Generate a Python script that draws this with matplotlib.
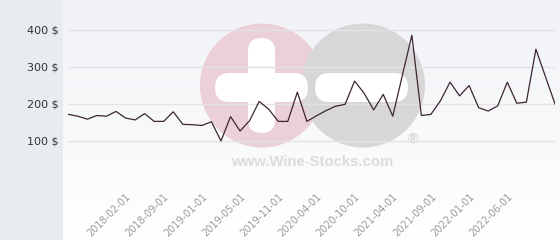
import numpy as np
import matplotlib
matplotlib.use("Agg")
import matplotlib.pyplot as plt
from matplotlib.patches import Circle, FancyBboxPatch

# prices, one per category slot
prices = [172, 167, 159, 169, 167, 180, 162, 157, 174, 153,
          153, 179, 145, 144, 142, 152, 100, 166, 127, 155,
          207, 186, 153, 153, 232, 153, 168, 182, 194, 199,
          262, 229, 184, 226, 167, 277, 386, 169, 172, 209,
          259, 222, 250, 190, 181, 195, 259, 202, 205, 348,
          274, 200]

# only every 4th category carries a visible label
tick_labels = ["2018-02-01", "2018-09-01", "2019-01-01", "2019-05-01",
               "2019-11-01", "2020-04-01", "2020-10-01", "2021-04-01",
               "2021-09-01", "2022-01-01", "2022-06-01"]
tick_pos = list(range(6, 6 + 4 * len(tick_labels), 4))

y_ticks = [100, 200, 300, 400]

W, H = 560, 240
fig = plt.figure(figsize=(W / 100, H / 100), dpi=100, facecolor="#e8ecef")

# white panel with soft vertical gradient + watermark, in pixel coords
bg = fig.add_axes([63 / W, 0, 1 - 63 / W, 1])
grad = np.linspace(0, 1, 256).reshape(-1, 1)
top = np.array([0.945, 0.949, 0.965])
bot = np.array([1.0, 1.0, 1.0])
img = top + (bot - top) * grad[..., None]
bg.imshow(img, aspect="auto", extent=[63, W, H, 0], origin="upper")
bg.set_xlim(63, W)
bg.set_ylim(H, 0)
bg.axis("off")

bg.add_patch(Circle((262, 85.5), 62, color="#ebd0d8", lw=0, zorder=2))
bg.add_patch(Circle((363, 85.5), 62, color="#d7d7d9", lw=0, zorder=2))

def pill(x, y, w, h):
    r = min(w, h) / 2
    bg.add_patch(FancyBboxPatch((x + r, y + r), w - 2 * r, h - 2 * r,
                                boxstyle=f"round,pad={r}",
                                color="white", lw=0, zorder=3))

pill(248, 38, 27, 95)    # plus, vertical
pill(215, 73, 93, 29)    # plus, horizontal
pill(315, 73, 93, 29)    # minus

bg.text(312, 162, "www.Wine-Stocks.com", fontsize=10.7, fontweight="bold",
        family="Liberation Sans", color="#dcdcdc", ha="center", va="center", zorder=3)
bg.text(413, 139, "\u00ae", fontsize=10, fontweight="bold",
        family="Liberation Sans", color="#d6d6d6", ha="center", va="center", zorder=3)

# main plotting axes
x0, x1 = 68.3, 555
ax = fig.add_axes([x0 / W, (H - 178) / H, (x1 - x0) / W, 178 / H])
ax.patch.set_alpha(0)
n = len(prices)
ax.plot(range(n), prices, color="#3b2631", lw=0.9, zorder=5)
ax.set_xlim(0, n - 1)
ax.set_ylim(0, 178 / 0.37)

for v in [0] + y_ticks:
    ax.axhline(v, color="#e3e3e6", lw=1, zorder=1)

ax.set_yticks(y_ticks)
ax.set_yticklabels([f"{v} $" for v in y_ticks], fontsize=8, color="#333333")
ax.set_xticks(tick_pos)
ax.set_xticklabels(tick_labels, rotation=45, ha="right", rotation_mode="anchor",
                   fontsize=7, color="#9a9a9a")
ax.tick_params(axis="y", length=0, pad=7)
ax.tick_params(axis="x", length=0, pad=10)
for s in ax.spines.values():
    s.set_visible(False)
ax.grid(False)

fig.savefig("out.png", dpi=100, facecolor=fig.get_facecolor())
